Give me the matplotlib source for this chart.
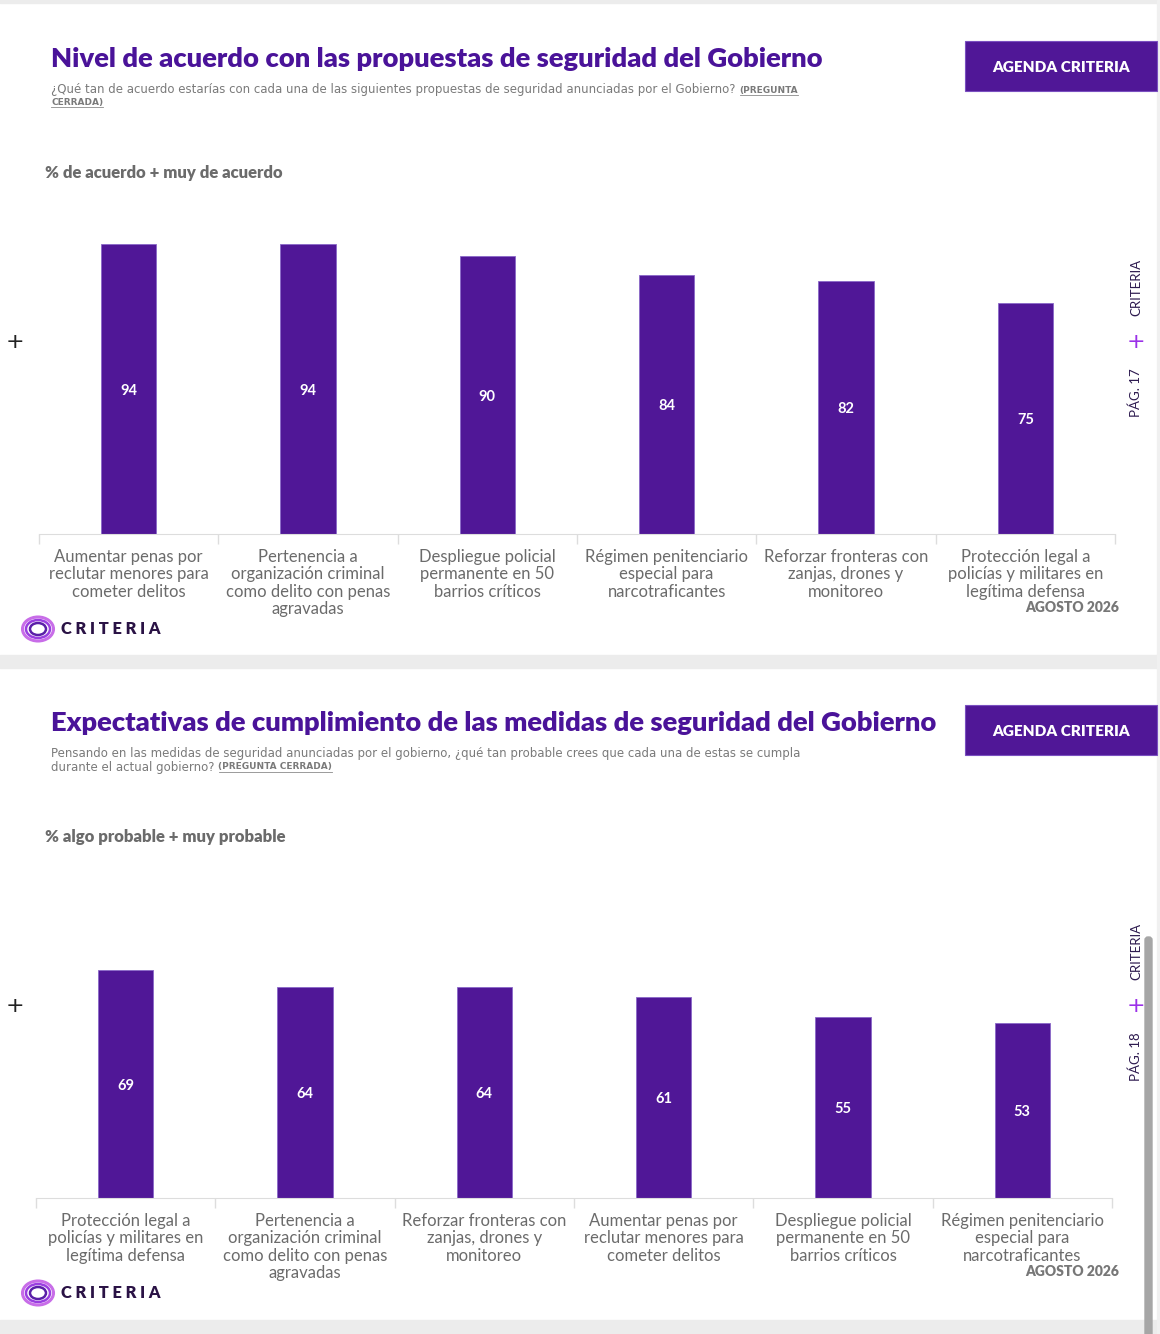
import matplotlib.pyplot as plt
from matplotlib.patches import Rectangle, Ellipse, FancyBboxPatch
import numpy as np

# data
cats_1 = ['Aumentar penas por\nreclutar menores para\ncometer delitos',
          'Pertenencia a\norganización criminal\ncomo delito con penas\nagravadas',
          'Despliegue policial\npermanente en 50\nbarrios críticos',
          'Régimen penitenciario\nespecial para\nnarcotraficantes',
          'Reforzar fronteras con\nzanjas, drones y\nmonitoreo',
          'Protección legal a\npolicías y militares en\nlegítima defensa']
vals_1 = [94, 94, 90, 84, 82, 75]

cats_2 = ['Protección legal a\npolicías y militares en\nlegítima defensa',
          'Pertenencia a\norganización criminal\ncomo delito con penas\nagravadas',
          'Reforzar fronteras con\nzanjas, drones y\nmonitoreo',
          'Aumentar penas por\nreclutar menores para\ncometer delitos',
          'Despliegue policial\npermanente en 50\nbarrios críticos',
          'Régimen penitenciario\nespecial para\nnarcotraficantes']
vals_2 = [69, 64, 64, 61, 55, 53]

PURPLE = '#501797'
TITLE_C = '#4a1399'
GRAY = '#6b6b6b'
FONT = 'Lato'
SUBFONT = 'DejaVu Sans'

W, H = 1160, 1334
fig = plt.figure(figsize=(W / 100, H / 100), dpi=100)
fig.patch.set_facecolor('white')

# background / decoration axes in pixel coords
bg = fig.add_axes([0, 0, 1, 1])
bg.set_xlim(0, W)
bg.set_ylim(H, 0)
bg.axis('off')

bg.add_patch(Rectangle((0, 0), W, 3, color='#ececec'))
bg.add_patch(Rectangle((0, 655), W, 13, color='#ececec'))
bg.add_patch(Rectangle((0, 1320), W, 14, color='#ececec'))
bg.add_patch(Rectangle((1157, 0), 3, H, color='#f0f0f0'))
bg.add_patch(FancyBboxPatch((1145, 937), 7, 400, boxstyle='round,pad=0,rounding_size=3',
                            color='#a6a6a6'))


def px_axes(left, right, top, bottom):
    return fig.add_axes([left / W, 1 - bottom / H, (right - left) / W, (bottom - top) / H])


def underline(t, y):
    fig.canvas.draw()
    e = t.get_window_extent()
    bg.plot([e.x0, e.x1], [y, y], color='#8a8a8a', lw=0.6)


def panel(y0, title, sub_lines, bold_words, measure, cats, vals, ax_box, page):
    # title
    bg.text(51, y0 + 59, title, fontsize=19.7, fontweight='heavy', color=TITLE_C,
            family=FONT, va='center', ha='left')
    # subtitle
    for i, line in enumerate(sub_lines):
        t = bg.text(51, y0 + 90 + i * 13, line, fontsize=8.5, color='#7a7a7a',
                    family=SUBFONT, va='center', ha='left')
    fig.canvas.draw()
    ext = t.get_window_extent()
    yb = y0 + 90 + (len(sub_lines) - 1) * 13
    for j, word in enumerate(bold_words):
        yy = yb + j * 12
        xx = ext.x1 + 4 if j == 0 else 51
        tb = bg.text(xx, yy, word, fontsize=6.5, fontweight='bold', color='#7a7a7a',
                     family=SUBFONT, va='center', ha='left')
        underline(tb, yy + 4.5)

    bg.text(45, y0 + 173, measure, fontsize=12, fontweight='heavy', color=GRAY,
            family=FONT, va='center', ha='left')

    # agenda box
    bg.add_patch(Rectangle((965, y0 + 41), 192, 50, facecolor=PURPLE,
                           edgecolor='#7a4fc0', lw=0.8))
    bg.text(1061, y0 + 67, 'AGENDA CRITERIA', fontsize=11, fontweight='heavy',
            color='white', family=FONT, ha='center', va='center')

    # side marks
    bg.text(15, y0 + 342, '+', fontsize=16, color='#222222', ha='center', va='center')
    bg.text(1136, y0 + 342, '+', fontsize=16, color='#9b30e8', ha='center', va='center')
    bg.text(1136, y0 + 393, page, fontsize=9.5, color='#2d1a4f', rotation=90,
            family=FONT, ha='center', va='center')
    bg.text(1136, y0 + 287, 'CRITERIA', fontsize=9.5, color='#2d1a4f', rotation=90,
            family=FONT, ha='center', va='center')

    # logo
    lx, ly = 38, y0 + 629
    for wdt, hgt, c, lw in [(31, 24, '#c86de8', 2.2), (24, 18, '#9a3ee0', 1.8),
                            (16, 12, '#5a1fa8', 1.8)]:
        bg.add_patch(Ellipse((lx, ly), wdt, hgt, fill=False, edgecolor=c, lw=lw))
    bg.text(61, ly, 'C R I T E R I A', fontsize=11.8, fontweight='heavy', color='#2a1245',
            family=FONT, ha='left', va='center')

    bg.text(1119, y0 + 607, 'AGOSTO 2026', fontsize=10, fontweight='heavy', color='#777777',
            family=FONT, ha='right', va='center')

    # bar chart
    left, right, top, bottom = ax_box
    ax = px_axes(left, right, top, bottom)
    ax.set_facecolor('none')
    x = np.arange(len(vals))
    ax.bar(x, vals, width=0.31, color=PURPLE, edgecolor='#8a68c8', linewidth=0.6)
    for xi, v in zip(x, vals):
        ax.text(xi, v / 2, str(v), color='white', fontsize=10.5, ha='center',
                va='center_baseline', family=FONT, fontweight='bold')
    ax.set_xlim(-0.5, len(vals) - 0.5)
    ax.set_ylim(0, 100)
    ax.set_xticks(x)
    ax.set_xticklabels(cats, fontsize=12, color=GRAY, family=FONT, linespacing=1.09)
    ax.set_xticks(np.arange(-0.5, len(vals)), minor=True)
    ax.tick_params(axis='x', which='major', length=0, pad=11)
    ax.tick_params(axis='x', which='minor', length=7, color='#dddddd', width=1)
    ax.set_yticks([])
    for s in ['top', 'right', 'left']:
        ax.spines[s].set_visible(False)
    ax.spines['bottom'].set_color('#dddddd')
    return ax


panel(0, 'Nivel de acuerdo con las propuestas de seguridad del Gobierno',
      ['¿Qué tan de acuerdo estarías con cada una de las siguientes propuestas de seguridad anunciadas por el Gobierno?'],
      ['(PREGUNTA', 'CERRADA)'],
      '% de acuerdo + muy de acuerdo', cats_1, vals_1,
      (39, 1115, 534 - 308.5, 534), 'PÁG. 17')

panel(664, 'Expectativas de cumplimiento de las medidas de seguridad del Gobierno',
      ['Pensando en las medidas de seguridad anunciadas por el gobierno, ¿qué tan probable crees que cada una de estas se cumpla',
       'durante el actual gobierno?'],
      ['(PREGUNTA CERRADA)'],
      '% algo probable + muy probable', cats_2, vals_2,
      (36, 1112, 1198 - 330, 1198), 'PÁG. 18')

fig.savefig('out.png', dpi=100, facecolor='white')
